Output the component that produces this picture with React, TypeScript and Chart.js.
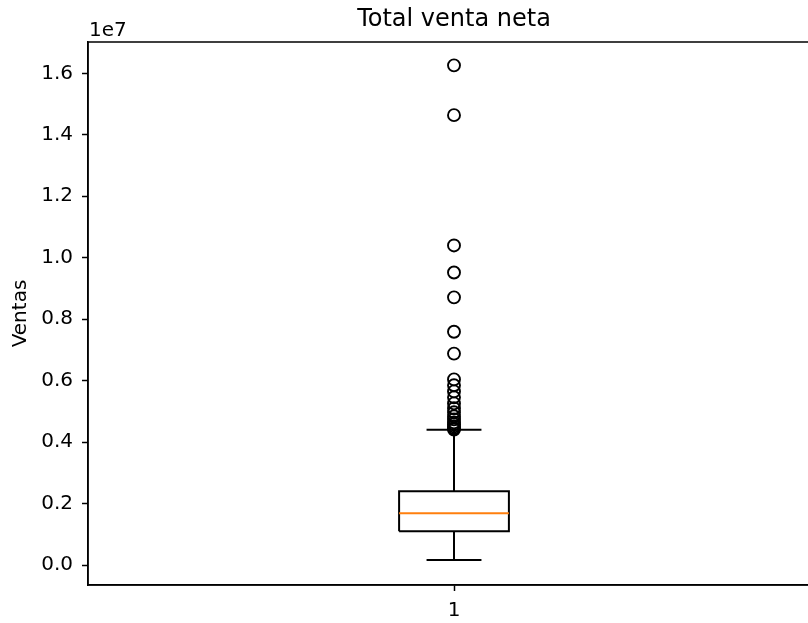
import React, { useEffect, useRef } from 'react';
import { Chart, registerables } from 'chart.js';

Chart.register(...registerables);

// ---- data ----
const TITLE = 'Total venta neta';
const Y_LABEL = 'Ventas';
const OFFSET_LABEL = '1e7';
const CATEGORIES = ['1'];
const POSITIONS = [1];
const Q1 = [1100000];
const MEDIAN = [1685000];
const Q3 = [2400000];
const WHISKER_LOW = [160000];
const WHISKER_HIGH = [4400000];
const OUTLIERS = [
  16260000, 14640000, 10400000, 9520000, 8710000, 7590000, 6880000,
  6040000, 5850000, 5650000, 5460000, 5260000, 5100000, 4970000,
  4840000, 4740000, 4640000, 4580000, 4510000, 4450000, 4410000,
];
const Y_TICKS = [0, 2000000, 4000000, 6000000, 8000000, 10000000, 12000000, 14000000, 16000000];
const Y_MIN = -650000;
const Y_MAX = 17020000;
const X_MIN = 0.5;
const X_MAX = 1.5;

const BOX_HALF = 0.075;
const CAP_HALF = 0.0375;
const FONT = '"DejaVu Sans", sans-serif';

const framePlugin = {
  id: 'frameAndOffset',
  afterDraw(chart: any) {
    const { ctx, chartArea } = chart;
    const { left, top, right, bottom } = chartArea;
    ctx.save();
    ctx.strokeStyle = '#000';
    ctx.lineWidth = 1.5;
    ctx.strokeRect(left, top, right - left, bottom - top);
    ctx.fillStyle = '#000';
    ctx.font = `20px ${FONT}`;
    ctx.textAlign = 'left';
    ctx.textBaseline = 'alphabetic';
    ctx.fillText(OFFSET_LABEL, left + 1, top - 6);
    ctx.restore();
  },
};

function buildDatasets() {
  const ds: any[] = [];
  const lineStyle = {
    showLine: true,
    pointRadius: 0,
    pointHoverRadius: 0,
    borderColor: '#000',
    borderWidth: 2,
    fill: false,
    tension: 0,
  };
  POSITIONS.forEach((p, i) => {
    // outliers
    ds.push({
      label: 'fliers',
      data: OUTLIERS.map((v) => ({ x: p, y: v })),
      showLine: false,
      pointStyle: 'circle',
      pointRadius: 6,
      pointBorderWidth: 1.9,
      pointBorderColor: '#000',
      pointBackgroundColor: 'rgba(0,0,0,0)',
    });
    // median
    ds.push({
      ...lineStyle,
      borderColor: '#ff7f0e',
      data: [
        { x: p - BOX_HALF, y: MEDIAN[i] },
        { x: p + BOX_HALF, y: MEDIAN[i] },
      ],
    });
    // box
    ds.push({
      ...lineStyle,
      data: [
        { x: p - BOX_HALF, y: Q1[i] },
        { x: p + BOX_HALF, y: Q1[i] },
        { x: p + BOX_HALF, y: Q3[i] },
        { x: p - BOX_HALF, y: Q3[i] },
        { x: p - BOX_HALF, y: Q1[i] },
      ],
    });
    // whiskers
    ds.push({ ...lineStyle, data: [{ x: p, y: Q1[i] }, { x: p, y: WHISKER_LOW[i] }] });
    ds.push({ ...lineStyle, data: [{ x: p, y: Q3[i] }, { x: p, y: WHISKER_HIGH[i] }] });
    // caps
    ds.push({
      ...lineStyle,
      data: [
        { x: p - CAP_HALF, y: WHISKER_LOW[i] },
        { x: p + CAP_HALF, y: WHISKER_LOW[i] },
      ],
    });
    ds.push({
      ...lineStyle,
      data: [
        { x: p - CAP_HALF, y: WHISKER_HIGH[i] },
        { x: p + CAP_HALF, y: WHISKER_HIGH[i] },
      ],
    });
  });
  return ds;
}

export default function App() {
  const ref = useRef<HTMLCanvasElement | null>(null);

  useEffect(() => {
    if (!ref.current) return;
    Chart.defaults.font.family = FONT;
    Chart.defaults.color = '#000';
    const chart = new Chart(ref.current, {
      type: 'scatter',
      data: { datasets: buildDatasets() },
      options: {
        animation: false,
        responsive: false,
        devicePixelRatio: 1,
        layout: { padding: { left: 0, right: 40, top: 0, bottom: 0 } },
        plugins: {
          legend: { display: false },
          tooltip: { enabled: false },
          title: {
            display: true,
            text: TITLE,
            fullSize: false,
            color: '#000',
            font: { family: FONT, size: 24, weight: 'normal' },
            padding: { top: 5.5, bottom: 7.7 },
          },
        },
        scales: {
          x: {
            type: 'linear',
            min: X_MIN,
            max: X_MAX,
            afterBuildTicks: (scale: any) => {
              scale.ticks = POSITIONS.map((v) => ({ value: v }));
            },
            afterFit: (scale: any) => {
              scale.height = 38;
            },
            ticks: {
              color: '#000',
              font: { family: FONT, size: 20 },
              padding: 8,
              maxRotation: 0,
              callback: (v: any) => {
                const idx = POSITIONS.indexOf(Number(v));
                return idx >= 0 ? CATEGORIES[idx] : '';
              },
            },
            grid: {
              display: true,
              drawOnChartArea: false,
              drawTicks: true,
              tickLength: 6,
              tickWidth: 1.5,
              tickColor: '#000',
            },
            border: { display: true, color: '#000', width: 1.5 },
          },
          y: {
            type: 'linear',
            min: Y_MIN,
            max: Y_MAX,
            afterBuildTicks: (scale: any) => {
              scale.ticks = Y_TICKS.map((v) => ({ value: v }));
            },
            afterFit: (scale: any) => {
              scale.width = 88;
            },
            ticks: {
              color: '#000',
              font: { family: FONT, size: 20 },
              padding: 9,
              callback: (v: any) => (Number(v) / 1e7).toFixed(1),
            },
            grid: {
              display: true,
              drawOnChartArea: false,
              drawTicks: true,
              tickLength: 6,
              tickWidth: 1.5,
              tickColor: '#000',
            },
            border: { display: true, color: '#000', width: 1.5 },
            title: {
              display: true,
              text: Y_LABEL,
              color: '#000',
              font: { family: FONT, size: 20 },
              padding: { top: 9, bottom: 0 },
            },
          },
        },
      } as any,
      plugins: [framePlugin],
    });
    return () => chart.destroy();
  }, []);

  return (
    <div
      style={{
        position: 'absolute',
        left: 0,
        top: 0,
        width: 808,
        height: 623,
        overflow: 'hidden',
        background: '#fff',
      }}
    >
      <canvas ref={ref} width={860} height={623} style={{ display: 'block', width: 860, height: 623 }} />
    </div>
  );
}
